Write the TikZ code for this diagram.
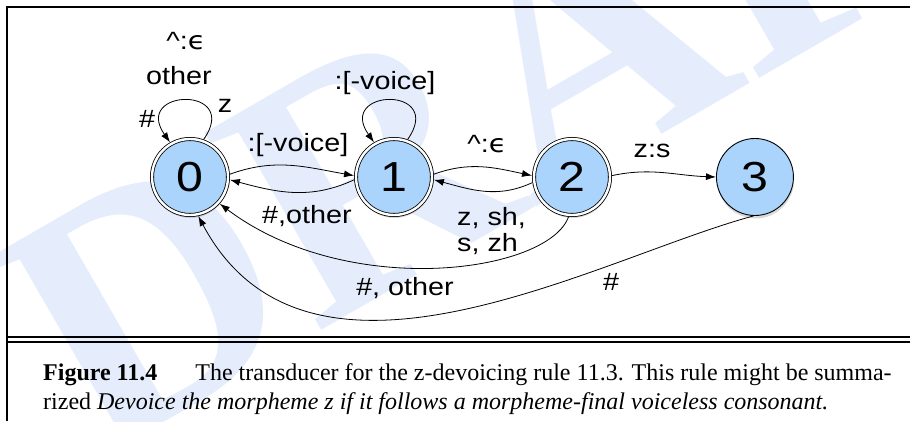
\documentclass[tikz,border=0pt]{standalone}
\usepackage{fontspec}
\setmainfont{Liberation Serif}
\newfontfamily\lblfont[FakeStretch=1.15]{Liberation Sans}
\newfontfamily\epsfont[FakeStretch=1.15]{DejaVu Sans}
\usetikzlibrary{arrows.meta,positioning,shadows}
\definecolor{fstBlue}{RGB}{170,212,252}
\definecolor{fstDraft}{RGB}{229,237,252}
\newcommand{\epsl}{{\epsfont ϵ}}

\begin{document}
\begin{tikzpicture}[x=1pt,y=1pt]
  \tikzset{
    stbase/.style={circle,draw=black,fill=fstBlue,inner sep=0pt,font=\lblfont\fontsize{42}{42}\selectfont,drop shadow={shadow xshift=0.6pt,shadow yshift=-3pt,opacity=0.3}},
    acc/.style={stbase,line width=0.8pt,double=white,double distance=2.4pt,minimum size=76pt,outer sep=2pt},
    plain/.style={stbase,line width=0.9pt,minimum size=77pt},
    lbl/.style={anchor=base,inner sep=0pt,font=\lblfont\fontsize{25}{26}\selectfont},
    tr/.style={draw=black,line width=0.8pt,-{Latex[length=10pt,width=7pt]}},
    rule/.style={line width=2.2pt},
    caption/.style={anchor=base west,inner sep=0pt,font=\fontsize{24}{28}\selectfont}
  }
  \useasboundingbox (0,0) rectangle (910,421);
  \clip (0,0) rectangle (910,421);
  % watermark
  \node[rotate=30,text=fstDraft,font=\bfseries\fontsize{350}{350}\selectfont] (wm) at (560,361) {DRAFT};
  % frame
  \draw[rule] (910,414) -- (7,414) -- (7,0);
  \draw[rule] (7,84) -- (910,84);
  \draw[rule] (7,79) -- (910,79);

  % states
  \node[acc] (s0) at (190,244) {0};
  \node[acc,right=124pt of s0] (s1) {1};
  \node[acc,right=98pt of s1] (s2) {2};
  \node[plain,right=104pt of s2] (s3) {3};

  % arcs
  \draw[tr] (s0.70) to[out=55,in=125,looseness=5] (s0.120);
  \draw[tr] (s1.70) to[out=55,in=125,looseness=5] (s1.120);
  \draw[tr] (s0.4) to[out=20,in=170] (s1.178);
  \draw[tr] (s1.184) to[out=205,in=-15] (s0.-4);
  \draw[tr] (s1.4) to[out=20,in=168] (s2.178);
  \draw[tr] (s2.188) to[out=205,in=-15] (s1.-4);
  \draw[tr] (s2.2) to[out=12,in=178] (s3.180);
  \draw[tr] (s2.265) .. controls +(250:60) and +(-37:160) .. (s0.-42);
  \draw[tr] (s3.268) .. controls +(195:160) and +(-62:235) .. (s0.-78);

  % labels
  \node[lbl] (l0eps) at (186,371) {\^{}:\epsl};
  \node[lbl] (l0oth) at (179,336) {other};
  \node[lbl] (l0hash) at (147,293) {\#};
  \node[lbl] (l0z) at (225,308) {z};
  \node[lbl] (l01) at (298,269) {:[-voice]};
  \node[lbl] (l10) at (307,198) {\#,other};
  \node[lbl] (l11) at (385,331) {:[-voice]};
  \node[lbl] (l12) at (487,268) {\^{}:\epsl};
  \node[lbl,anchor=base west] (l21a) at (457,196) {z, sh,};
  \node[lbl,anchor=base west] (l21b) at (457,170) {s, zh};
  \node[lbl] (l20) at (405,126) {\#, other};
  \node[lbl] (l23) at (652,263) {z:s};
  \node[lbl] (l30) at (611,131) {\#};

  % caption
  \node[caption] (cap1) at (43,41) {\textbf{Figure 11.4}\hspace*{38pt}The transducer for the z-devoicing rule 11.3. This rule might be summa-};
  \node[caption] (cap2) at (43,12) {rized \textit{Devoice the morpheme z if it follows a morpheme-final voiceless consonant.}};
\end{tikzpicture}
\end{document}
